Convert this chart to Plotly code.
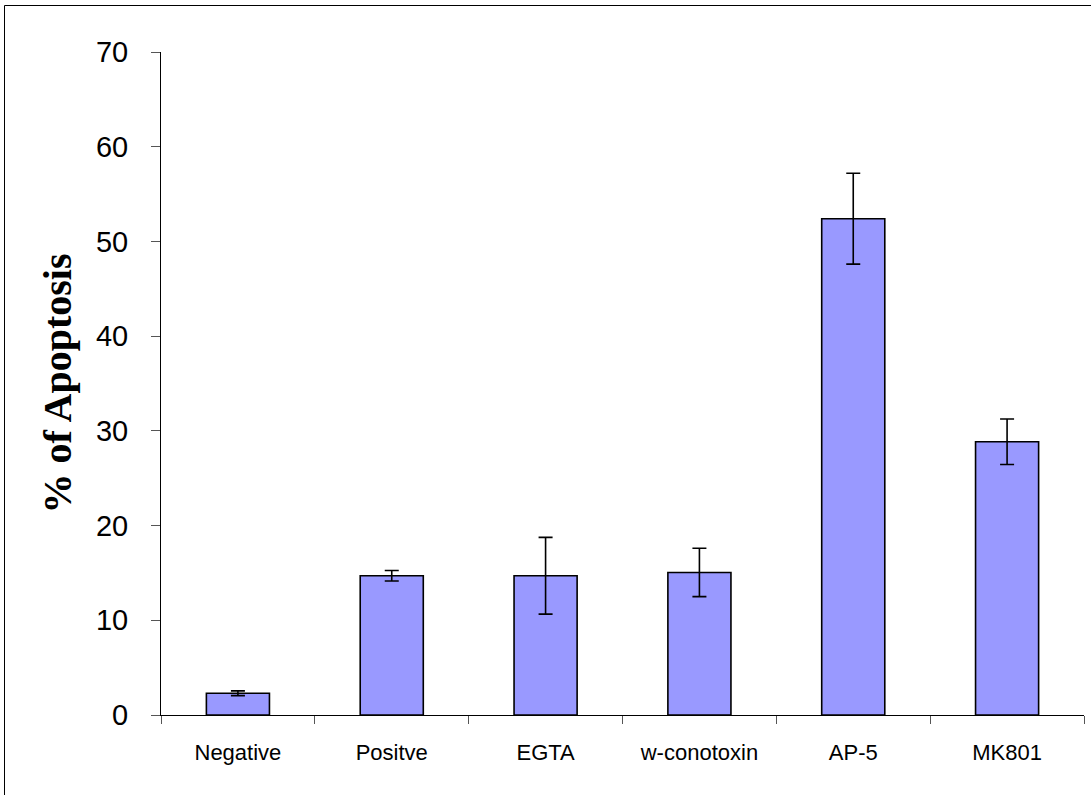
import plotly.graph_objects as go

# Treatment groups and measured apoptosis (%), with error-bar half-widths
groups = ["Negative", "Positve", "EGTA", "w-conotoxin", "AP-5", "MK801"]
apoptosis = [2.3, 14.7, 14.7, 15.05, 52.4, 28.85]
error = [0.25, 0.55, 4.05, 2.55, 4.8, 2.4]
y_ticks = [0, 10, 20, 30, 40, 50, 60, 70]

W, H = 1091, 795
L, R, T, B = 161, 7, 52, 80
pw, ph = W - L - R, H - T - B

fig = go.Figure(
    go.Bar(
        x=groups,
        y=apoptosis,
        width=0.41,
        marker=dict(color="#9999FF", line=dict(color="black", width=1.6)),
        error_y=dict(type="data", array=error, visible=True,
                     color="black", thickness=1.6, width=7),
    )
)

fig.update_layout(
    width=W,
    height=H,
    margin=dict(l=L, r=R, t=T, b=B),
    paper_bgcolor="white",
    plot_bgcolor="white",
    showlegend=False,
    font=dict(family="Liberation Sans, Arial, sans-serif", color="black"),
)

fig.update_xaxes(
    type="category",
    tickson="boundaries",
    ticks="outside",
    ticklen=8,
    tickcolor="#555",
    tickwidth=1,
    showline=True,
    linecolor="black",
    linewidth=1,
    showgrid=False,
    tickfont=dict(size=22),
    ticklabelstandoff=18,
)

fig.update_yaxes(
    range=[0, 70],
    tickvals=y_ticks,
    ticks="outside",
    ticklen=9,
    tickcolor="#555",
    tickwidth=1,
    showline=True,
    linecolor="black",
    linewidth=1,
    showgrid=False,
    zeroline=False,
    tickfont=dict(size=29),
    ticklabelstandoff=17,
    title=dict(
        text="<b>% of Apoptosis</b>",
        font=dict(family="Liberation Serif, Times New Roman, serif", size=40),
        standoff=11,
    ),
)

# Outer frame around the chart (open at the right and bottom edges)
def px_to_paper_x(px):
    return (px - L) / pw

def px_to_paper_y(py):
    return (H - B - py) / ph

fig.add_shape(
    type="rect",
    xref="paper", yref="paper",
    x0=px_to_paper_x(4.5), x1=px_to_paper_x(W + 5),
    y0=px_to_paper_y(H + 5), y1=px_to_paper_y(5.5),
    line=dict(color="black", width=1),
    fillcolor="rgba(0,0,0,0)",
    layer="below",
)

fig.write_html("out.html")
